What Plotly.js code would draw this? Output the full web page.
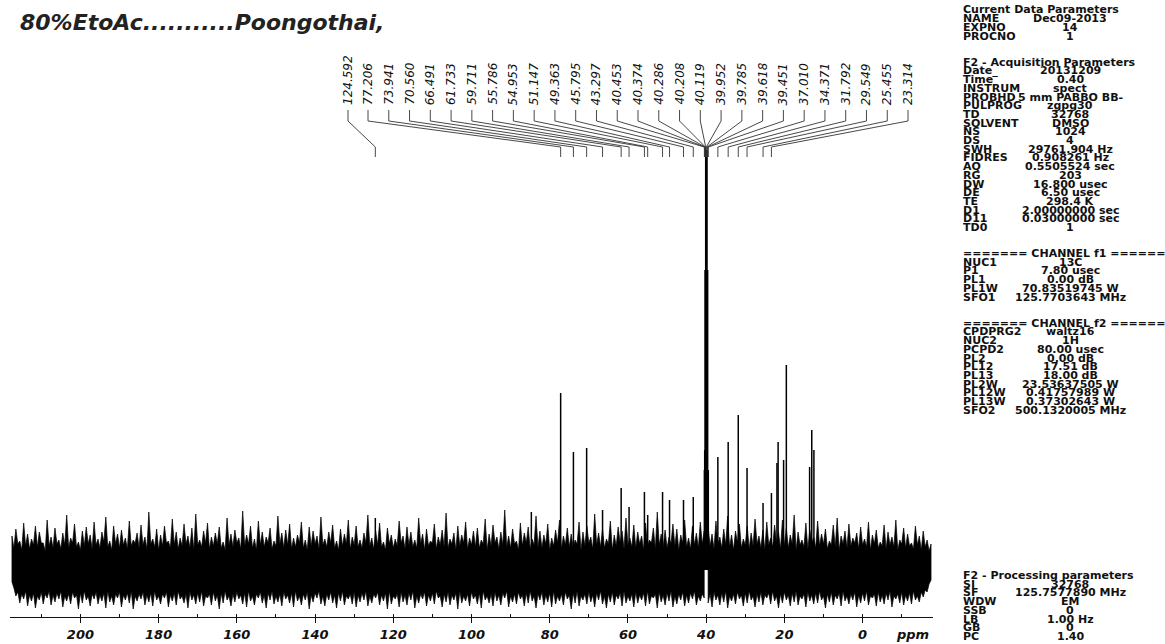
<!DOCTYPE html>
<html><head><meta charset="utf-8">
<script src="https://cdn.plot.ly/plotly-3.0.1.min.js"></script>
<style>html,body{margin:0;padding:0;background:#fff}#chart{width:1165px;height:644px}</style>
</head><body><div id="chart"></div>
<script>
// ---------------- DATA ----------------
const titleText = '80%EtoAc...........Poongothai,';
const axisUnit = 'ppm';

// labelled peaks (ppm) and their read heights (intensity, baseline = 0)
const peakLabels = ['124.592','77.206','73.941','70.560','66.491','61.733','59.711','55.786','54.953','51.147','49.363','45.795','43.297','40.453','40.374','40.286','40.208','40.119','39.952','39.785','39.618','39.451','37.010','34.371','31.792','29.549','25.455','23.314'];
const peakPpm = [124.592,77.206,73.941,70.560,66.491,61.733,59.711,55.786,54.953,51.147,49.363,45.795,43.297,40.453,40.374,40.286,40.208,40.119,39.952,39.785,39.618,39.451,37.010,34.371,31.792,29.549,25.455,23.314];
const peakHeight = [52,177,118,122,60,82,63,78,55,78,70,70,73,100,120,300,110,600,700,600,300,100,113,128,155,102,67,77];

// unlabelled peaks visible above the noise
const extraPeakPpm = [84.7,21.9,21.6,20.2,19.5,13.55,13.0,12.45];
const extraPeakHeight = [58,107,128,110,205,103,140,120];

// noise envelope, one sample every 0.5 ppm (segment A: 217.5 -> 40.5, segment B: 39.5 -> -17.5)
const noiseStartA = 217.5;
const noiseStartB = 39.5;
const noiseStep = 0.5;
const noiseTopA = [34,22,41,26,29,20,47,24,36,21,31,25,44,23,38,27,27,19,50,24,
33,22,42,26,30,21,37,25,55,22,32,27,46,23,28,20,39,24,43,26,
35,21,48,25,31,22,38,28,53,23,29,20,44,26,36,22,40,25,32,21,
49,24,30,27,37,22,45,25,33,21,58,26,31,23,41,20,35,24,44,27,
29,22,51,25,38,21,32,24,46,26,34,22,42,20,56,25,30,23,39,27,
47,21,33,24,37,26,43,22,28,20,52,25,36,23,40,27,32,21,59,24,
35,26,44,22,31,20,49,25,38,23,33,27,42,21,29,24,54,26,37,22,
40,25,46,21,32,23,35,27,48,22,30,20,43,24,39,26,34,21,53,25,
31,23,38,27,45,22,29,20,41,24,36,26,50,21,33,25,44,23,30,22,
37,27,55,24,32,21,39,25,47,23,28,20,42,26,35,22,31,24,49,27,
34,21,43,25,38,23,30,22,52,26,36,20,41,24,29,27,46,21,33,25,
40,23,57,22,31,26,37,20,44,24,35,27,48,21,32,25,39,23,42,22,
30,26,51,20,36,24,45,27,33,21,38,25,60,23,34,22,41,26,29,20,
47,24,37,27,43,21,31,25,54,23,39,22,35,26,46,20,32,24,40,27,
50,21,34,25,42,23,36,22,30,26,48,20,38,24,44,27,33,21,56,25,
37,23,41,22,31,26,49,20,35,24,43,27,39,21,52,25,32,23,45,22,
38,26,34,20,47,24,30,27,42,21,58,25,36,23,40,22,33,26,46,24,
41,20,35,27,50,23,32,21,44,25,37,22,48,26,39];
const noiseBottomA = [-12,-18,-26,-22,-33,-24,-29,-21,-36,-25,-31,-23,-38,-26,-30,-22,-34,-24,-28,-21,
-35,-25,-32,-23,-29,-21,-37,-26,-31,-24,-34,-22,-28,-25,-39,-23,-33,-21,-30,-26,
-36,-24,-29,-22,-34,-25,-31,-23,-38,-21,-32,-26,-35,-24,-28,-22,-37,-25,-30,-23,
-33,-21,-39,-26,-31,-24,-29,-22,-35,-25,-32,-23,-36,-21,-30,-26,-34,-24,-28,-22,
-37,-25,-31,-23,-35,-21,-29,-26,-33,-24,-38,-22,-30,-25,-34,-23,-32,-21,-36,-26,
-28,-24,-35,-22,-31,-25,-39,-23,-33,-21,-30,-26,-36,-24,-32,-22,-29,-25,-34,-23,
-37,-21,-31,-26,-35,-24,-28,-22,-33,-25,-38,-23,-30,-21,-34,-26,-32,-24,-36,-22,
-29,-25,-33,-23,-37,-21,-31,-26,-35,-24,-30,-22,-39,-25,-32,-23,-28,-21,-34,-26,
-36,-24,-30,-22,-33,-25,-38,-23,-31,-21,-35,-26,-29,-24,-34,-22,-37,-25,-32,-23,
-30,-21,-36,-26,-33,-24,-28,-22,-35,-25,-31,-23,-39,-21,-34,-26,-29,-24,-37,-22,
-32,-25,-35,-23,-30,-21,-38,-26,-33,-24,-29,-22,-36,-25,-31,-23,-34,-21,-28,-26,
-37,-24,-32,-22,-35,-25,-30,-23,-39,-21,-33,-26,-31,-24,-36,-22,-29,-25,-34,-23,
-38,-21,-30,-26,-33,-24,-36,-22,-31,-25,-35,-23,-28,-21,-37,-26,-32,-24,-34,-22,
-29,-25,-36,-23,-33,-21,-31,-26,-38,-24,-30,-22,-35,-25,-32,-23,-37,-21,-34,-26,
-31,-24,-35,-22,-29,-25,-39,-23,-33,-21,-36,-26,-30,-24,-34,-22,-32,-25,-37,-23,
-30,-21,-34,-26,-38,-24,-32,-22,-35,-25,-29,-23,-36,-21,-33,-26,-31,-24,-37,-22,
-33,-25,-30,-23,-36,-21,-34,-26,-28,-24,-38,-22,-32,-25,-35,-23,-31,-21,-37,-26,
-34,-24,-30,-22,-36,-25,-33,-23,-29,-21,-35,-26,-31,-24,-28];
const noiseTopB = [43,24,36,21,49,26,33,22,41,25,54,23,35,20,39,27,46,22,31,25,
44,21,37,24,51,26,34,22,40,20,48,25,32,23,45,27,38,21,50,24,
42,22,35,26,55,20,38,25,30,23,47,21,40,27,33,22,49,24,36,26,
41,21,29,25,45,23,52,20,34,26,39,22,46,24,32,27,37,21,43,25,
31,23,48,20,35,26,40,22,28,24,45,21,38,25,33,23,50,20,30,26,
42,22,36,24,27,21,44,25,34,20,39,23,30,19,26];
const noiseBottomB = [-33,-24,-37,-22,-30,-25,-35,-23,-32,-21,-38,-26,-31,-24,-34,-22,-29,-25,-36,-23,
-33,-21,-30,-26,-37,-24,-32,-22,-35,-25,-28,-23,-34,-21,-31,-26,-38,-24,-33,-22,
-30,-25,-36,-23,-32,-21,-35,-26,-29,-24,-37,-22,-31,-25,-34,-23,-33,-21,-30,-26,
-38,-24,-32,-22,-35,-25,-29,-23,-36,-21,-31,-26,-34,-24,-30,-22,-37,-25,-33,-23,
-31,-21,-35,-26,-28,-24,-36,-22,-32,-25,-34,-23,-30,-21,-37,-26,-29,-24,-33,-22,
-35,-25,-31,-23,-34,-21,-30,-26,-32,-22,-27,-20,-22,-14,-10];

// acquisition / processing parameter block
const paramKeys = ['Current Data Parameters','NAME','EXPNO','PROCNO',
 'F2 - Acquisition Parameters','Date_','Time','INSTRUM','PROBHD','PULPROG','TD','SOLVENT','NS','DS','SWH','FIDRES','AQ','RG','DW','DE','TE','D1','D11','TD0',
 '======= CHANNEL f1 ======','NUC1','P1','PL1','PL1W','SFO1',
 '======= CHANNEL f2 ======','CPDPRG2','NUC2','PCPD2','PL2','PL12','PL13','PL2W','PL12W','PL13W','SFO2',
 'F2 - Processing parameters','SI','SF','WDW','SSB','LB','GB','PC'];
const paramValues = ['','Dec09-2013','14','1',
 '','20131209','0.40','spect','5 mm PABBO BB-','zgpg30','32768','DMSO','1024','4','29761.904 Hz','0.908261 Hz','0.5505524 sec','203','16.800 usec','6.50 usec','298.4 K','2.00000000 sec','0.03000000 sec','1',
 '','13C','7.80 usec','0.00 dB','70.83519745 W','125.7703643 MHz',
 '','waltz16','1H','80.00 usec','0.00 dB','17.51 dB','18.00 dB','23.53637505 W','0.41757989 W','0.37302643 W','500.1320005 MHz',
 '','32768','125.7577890 MHz','EM','0','1.00 Hz','0','1.40'];
const paramRow = [0,1,2,3, 6,7,8,9,10,11,12,13,14,15,16,17,18,19,20,21,22,23,24,25,
 28,29,30,31,32,33, 36,37,38,39,40,41,42,43,44,45,46, 65,66,67,68,69,70,71,72];

// ---------------- LAYOUT HELPERS ----------------
const W = 1165, H = 644;
const PL = 10, PR = 933, PT = 150, PB = 617;
const X_RANGE = [218, -18];
const BASE_PX = 570;
const Y_RANGE = [-(PB - BASE_PX), BASE_PX - PT];
const pxToPpm = px => X_RANGE[0] - (px - PL) * (X_RANGE[0] - X_RANGE[1]) / (PR - PL);
const py = p => 1 - p / H;
const FONT = 'DejaVu Sans, Verdana, sans-serif';

// ---------------- TRACES ----------------
function noisePoly(start, top, bottom) {
  const xs = [], ys = [];
  top.forEach((v, i) => { xs.push(start - i * noiseStep); ys.push(v); });
  for (let i = bottom.length - 1; i >= 0; i--) { xs.push(start - i * noiseStep); ys.push(bottom[i]); }
  xs.push(xs[0]); ys.push(ys[0]);
  return {x: xs, y: ys, type: 'scatter', mode: 'lines', fill: 'toself',
    fillcolor: '#000', line: {color: '#000', width: 0.7}, hoverinfo: 'skip', showlegend: false};
}
function sticks(ppm, h) {
  const xs = [], ys = [];
  ppm.forEach((p, i) => { xs.push(p, p, null); ys.push(0, h[i], null); });
  return {x: xs, y: ys, type: 'scatter', mode: 'lines',
    line: {color: '#000', width: 1.5}, hoverinfo: 'skip', showlegend: false};
}
const traces = [
  noisePoly(noiseStartA, noiseTopA, noiseBottomA),
  noisePoly(noiseStartB, noiseTopB, noiseBottomB),
  sticks(extraPeakPpm, extraPeakHeight),
  sticks(peakPpm, peakHeight)
];

// ---------------- ANNOTATIONS & SHAPES ----------------
const annotations = [];
const shapes = [];
annotations.push({text: titleText, xref: 'paper', yref: 'paper', x: 18 / W, y: py(22),
  xanchor: 'left', yanchor: 'middle', showarrow: false,
  font: {family: FONT, size: 22, weight: 'bold', style: 'italic', color: '#222'}});
annotations.push({text: axisUnit, xref: 'paper', yref: 'paper', x: 912 / W, y: py(634),
  xanchor: 'center', yanchor: 'middle', showarrow: false,
  font: {family: FONT, size: 13, weight: 'bold', style: 'italic', color: '#111'}});

// peak labels (Bruker style, rotated) with connectors
peakLabels.forEach((lab, i) => {
  const slotPx = i === 0 ? 348 : 368 + (i - 1) * 20.77;
  const lx = pxToPpm(slotPx);
  annotations.push({text: lab, xref: 'x', yref: 'paper', x: lx, y: py(107), textangle: -90,
    xanchor: 'center', yanchor: 'bottom', showarrow: false,
    font: {family: FONT, size: 12, style: 'italic', color: '#111'}});
  shapes.push({type: 'path', xref: 'x', yref: 'paper',
    path: `M ${lx},${py(110)} L ${lx},${py(121)} L ${peakPpm[i]},${py(147)} L ${peakPpm[i]},${py(157)}`,
    line: {color: '#333', width: 0.9}});
});

// parameter block
paramKeys.forEach((k, i) => {
  const y = py(10 + paramRow[i] * 8.7);
  annotations.push({text: k, xref: 'paper', yref: 'paper', x: 962 / W, y: y,
    xanchor: 'left', yanchor: 'middle', showarrow: false, borderpad: 0,
    font: {family: FONT, size: 11, weight: 'bold', color: '#111'}});
  if (paramValues[i]) annotations.push({text: paramValues[i], xref: 'paper', yref: 'paper', x: 1070 / W, y: y,
    xanchor: 'center', yanchor: 'middle', showarrow: false, borderpad: 0,
    font: {family: FONT, size: 11, weight: 'bold', color: '#111'}});
});

const layout = {
  width: W, height: H, margin: {l: 0, r: 0, t: 0, b: 0},
  paper_bgcolor: '#fff', plot_bgcolor: '#fff', showlegend: false,
  xaxis: {domain: [PL / W, PR / W], range: X_RANGE, autorange: false, showgrid: false, zeroline: false,
    showline: true, linecolor: '#111', linewidth: 1,
    tickmode: 'linear', tick0: 0, dtick: 20, ticks: 'outside', ticklen: 5, tickwidth: 1, tickcolor: '#111',
    ticklabelstandoff: 0,
    tickfont: {family: FONT, size: 13, weight: 'bold', style: 'italic', color: '#111'},
    minor: {tick0: 0, dtick: 10, ticks: 'inside', ticklen: 3, tickcolor: '#111', showgrid: false},
    fixedrange: true},
  yaxis: {domain: [(H - PB) / H, (H - PT) / H], range: Y_RANGE, autorange: false, visible: false, fixedrange: true},
  annotations: annotations, shapes: shapes
};
Plotly.newPlot('chart', traces, layout, {displayModeBar: false, staticPlot: true});
</script></body></html>
